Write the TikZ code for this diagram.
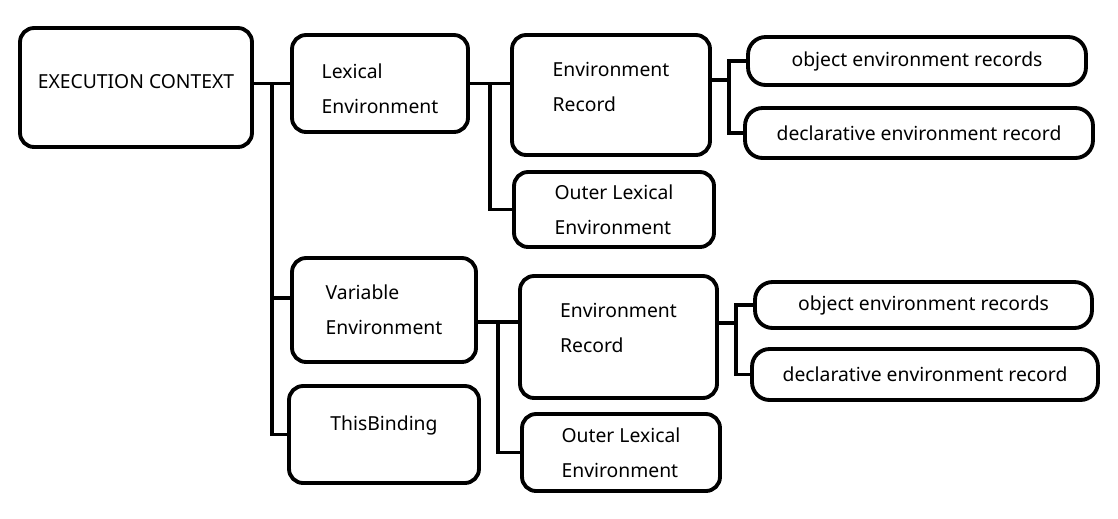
\documentclass[tikz,border=0pt]{standalone}
\usepackage{fontspec}
\setmainfont{Noto Sans}
\usetikzlibrary{positioning, calc}

\begin{document}
\begin{tikzpicture}[x=0.02cm, y=-0.02cm,
        box/.style={draw, rectangle, rounded corners=8pt, line width=2.2pt, align=left,
            font=\fontsize{11}{20}\selectfont, inner sep=0pt},
        pill/.style={draw, rectangle, rounded corners=10pt, line width=2.2pt,
            font=\fontsize{11}{20}\selectfont, inner sep=0pt},
        conn/.style={line width=2.2pt}]
        \useasboundingbox (0,0) rectangle (1118,518);

        % Nodes
        \node[box, minimum width=4.64cm, minimum height=2.38cm, text depth=0.24cm] (EC) at (136,87.5) {EXECUTION CONTEXT};
        \node[box, minimum width=3.52cm, minimum height=1.94cm, text height=1.2cm] (LexEnv) at (380,83.5) {Lexical\\Environment};
        \node[box, minimum width=3.96cm, minimum height=2.4cm, text depth=0.34cm] (EnvRecA) at (611,95) {Environment\\Record};
        \node[box, minimum width=4cm, minimum height=1.5cm] (OuterA) at (614,209.5) {Outer Lexical\\Environment};
        \node[pill, minimum width=6.76cm, minimum height=0.96cm] (ObjA) at (917,61) {object environment records};
        \node[pill, minimum width=6.96cm, minimum height=1cm] (DeclA) at (919,133) {declarative environment record};

        \node[box, minimum width=3.68cm, minimum height=2.08cm] (VarEnv) at (384,310) {Variable\\Environment};
        \node[box, minimum width=3.8cm, minimum height=1.94cm, text depth=0.47cm] (This) at (384,434.5) {ThisBinding};
        \node[box, minimum width=3.94cm, minimum height=2.44cm, text depth=0.36cm] (EnvRecB) at (618.5,337) {Environment\\Record};
        \node[box, minimum width=3.96cm, minimum height=1.54cm] (OuterB) at (621,452.5) {Outer Lexical\\Environment};
        \node[pill, minimum width=6.74cm, minimum height=0.92cm] (ObjB) at (923.5,305) {object environment records};
        \node[pill, minimum width=6.92cm, minimum height=1.02cm] (DeclB) at (925,374.5) {declarative environment record};

        % Connections
        \coordinate (ecj) at ($(LexEnv.west -| EC.east)!0.5!(LexEnv.west)$);
        \draw[conn] (LexEnv.west -| EC.east) -- (LexEnv.west);
        \draw[conn] (ecj) |- ([yshift=0.24cm]VarEnv.west);
        \draw[conn] (ecj) |- (This.west);

        \coordinate (lej) at ($(LexEnv.east)!0.5!(LexEnv.east -| EnvRecA.west)$);
        \draw[conn] (LexEnv.east) -- (LexEnv.east -| EnvRecA.west);
        \draw[conn] (lej) |- (OuterA.west);

        \coordinate (raj) at ($([yshift=0.3cm]EnvRecA.east)!0.5!([yshift=0.3cm]EnvRecA.east -| ObjA.west)$);
        \draw[conn] ([yshift=0.3cm]EnvRecA.east) -- (raj);
        \draw[conn] (ObjA.west) -| (raj) |- (DeclA.west);

        \coordinate (vej) at ($([yshift=-0.24cm]VarEnv.east)!0.5!([yshift=-0.24cm]VarEnv.east -| EnvRecB.west)$);
        \draw[conn] ([yshift=-0.24cm]VarEnv.east) -- ([yshift=-0.24cm]VarEnv.east -| EnvRecB.west);
        \draw[conn] (vej) |- (OuterB.west);

        \coordinate (rbj) at ($([yshift=0.28cm]EnvRecB.east)!0.5!([yshift=0.28cm]EnvRecB.east -| ObjB.west)$);
        \draw[conn] ([yshift=0.28cm]EnvRecB.east) -- (rbj);
        \draw[conn] (ObjB.west) -| (rbj) |- (DeclB.west);
    \end{tikzpicture}
\end{document}
